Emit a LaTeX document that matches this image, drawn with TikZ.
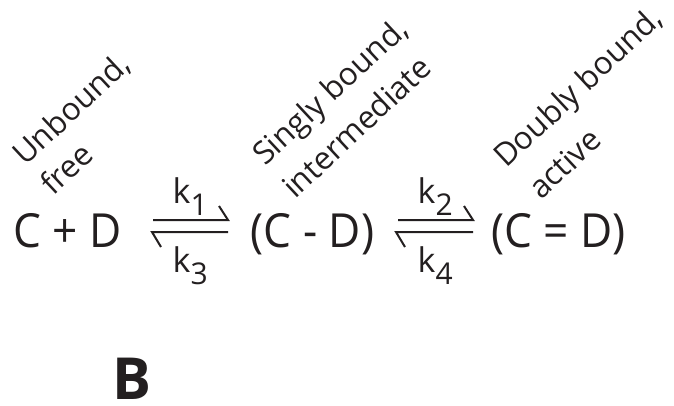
\documentclass[tikz,border=0pt]{standalone}
\usepackage{fontspec}
\setmainfont{Open Sans}
\definecolor{ink}{RGB}{35,31,32}
\newcommand{\ksub}[1]{k\raisebox{-12pt}{\fontsize{30}{30}\selectfont #1}}
\newcommand{\narrow}[1]{\scalebox{0.94}[1]{#1}}
\begin{document}
\begin{tikzpicture}[x=1pt,y=-1pt,
  species/.style={font=\fontsize{47}{50}\selectfont, anchor=base, inner sep=0pt, text=ink},
  rate/.style={font=\fontsize{34}{40}\selectfont, anchor=base west, inner sep=0pt, text=ink},
  lab/.style={font=\fontsize{31.5}{40}\selectfont, anchor=base west, inner sep=0pt, rotate=43, text=ink},
  harp/.style={line width=2pt, draw=ink, line cap=butt, line join=miter}]
\useasboundingbox (0,0) rectangle (674,405);
% species
\node[species] (s1) at (67.5,247) {\narrow{C + D}};
\node[species] (s2) at (312.5,247) {\narrow{(C - D)}};
\node[species] (s3) at (558.5,247) {\narrow{(C = D)}};
% labels
\node[lab] (l1a) at (25,167) {Unbound,};
\node[lab] (l1b) at (53,197) {free};
\node[lab] (l2a) at (265,167) {Singly bound,};
\node[lab] (l2b) at (295,200) {intermediate};
\node[lab] (l3a) at (506,169) {Doubly bound,};
\node[lab] (l3b) at (541,201) {active};
% harpoons
\coordinate (h1ts) at (153,220); \coordinate (h1te) at (228,220);
\coordinate (h1bs) at (152,232); \coordinate (h1be) at (228,232);
\coordinate (h2ts) at (398,220); \coordinate (h2te) at (473,220);
\coordinate (h2bs) at (396,232); \coordinate (h2be) at (473,232);
\draw[harp] (h1ts) -- (h1te) -- ++(-9,-14);
\draw[harp] (h1be) -- (h1bs) -- ++(9,15);
\draw[harp] (h2ts) -- (h2te) -- ++(-9,-14);
\draw[harp] (h2be) -- (h2bs) -- ++(9,15);
% rates
\node[rate] (k1) at (172.5,203) {\ksub{1}};
\node[rate] (k3) at (172.5,272) {\ksub{3}};
\node[rate] (k2) at (417.5,203) {\ksub{2}};
\node[rate] (k4) at (417.5,272) {\ksub{4}};
% panel letter
\node[font=\fontsize{58}{58}\selectfont\bfseries, anchor=base, inner sep=0pt, text=ink] (B) at (132,399) {B};
\end{tikzpicture}
\end{document}
